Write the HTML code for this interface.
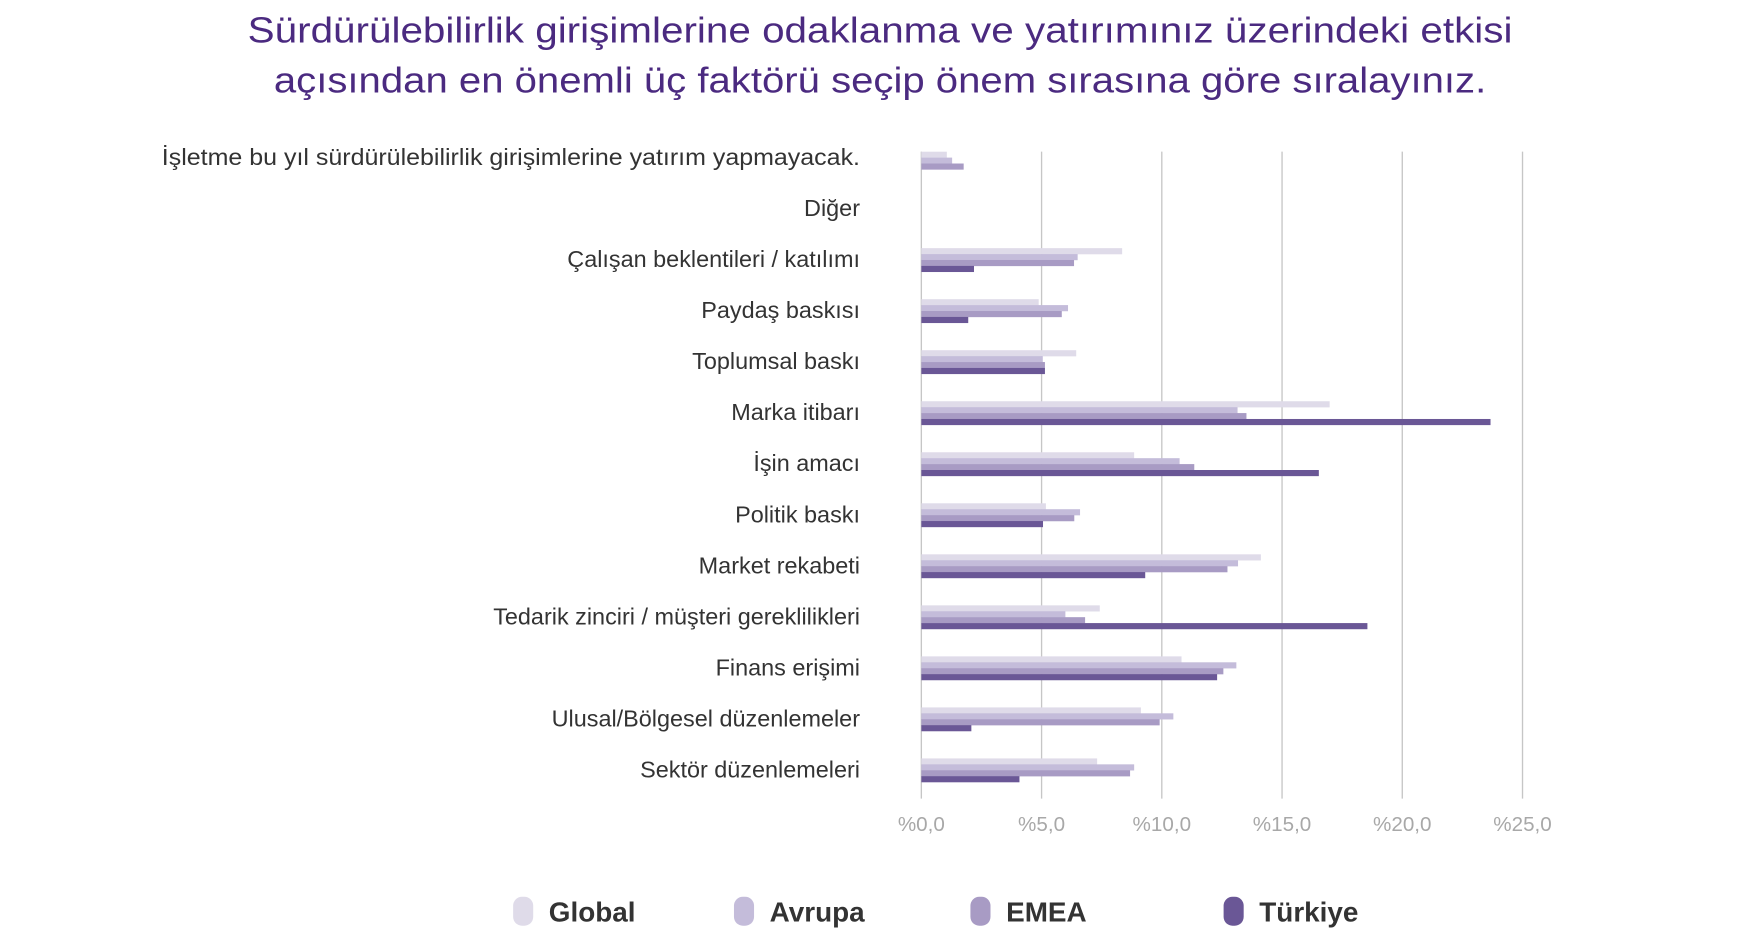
<!DOCTYPE html>
<html><head><meta charset="utf-8"><style>
html,body{margin:0;padding:0;background:#fff;}
svg{display:block;}
text{font-family:"Liberation Sans",sans-serif;}
</style></head><body>
<svg id="chart" width="1749" height="938" viewBox="0 0 1568 841" xmlns="http://www.w3.org/2000/svg">
<text x="789" y="38" text-anchor="middle" font-size="32" fill="#4b2a80" textLength="1134" lengthAdjust="spacingAndGlyphs">Sürdürülebilirlik girişimlerine odaklanma ve yatırımınız üzerindeki etkisi</text>
<text x="789" y="83" text-anchor="middle" font-size="32" fill="#4b2a80" textLength="1087" lengthAdjust="spacingAndGlyphs">açısından en önemli üç faktörü seçip önem sırasına göre sıralayınız.</text>
<g id="grid"></g><g id="bars"></g><g id="labels"></g><g id="ticks"></g><g id="legend"></g>
</svg>
<script>
const categories = ["İşletme bu yıl sürdürülebilirlik girişimlerine yatırım yapmayacak.","Diğer","Çalışan beklentileri / katılımı","Paydaş baskısı","Toplumsal baskı","Marka itibarı","İşin amacı","Politik baskı","Market rekabeti","Tedarik zinciri / müşteri gereklilikleri","Finans erişimi","Ulusal/Bölgesel düzenlemeler","Sektör düzenlemeleri"];
const seriesNames = ["Global","Avrupa","EMEA","Türkiye"];
const globalVals = [1.06,0,8.35,4.88,6.44,16.98,8.85,5.18,14.12,7.42,10.82,9.13,7.31];
const avrupaVals = [1.28,0,6.5,6.1,5.05,13.15,10.74,6.6,13.17,5.99,13.1,10.48,8.85];
const emeaVals = [1.76,0,6.35,5.84,5.14,13.52,11.35,6.36,12.73,6.81,12.56,9.91,8.68];
const turkiyeVals = [0,0,2.19,1.95,5.14,23.67,16.53,5.06,9.31,18.55,12.3,2.08,4.08];
const tickValues = [0,5,10,15,20,25];
const tickLabels = ["%0,0","%5,0","%10,0","%15,0","%20,0","%25,0"];

const NS="http://www.w3.org/2000/svg";
const colors=["#dfdbe9","#c4bcda","#a89bc4","#6a5796"];
const X0=826, PX=21.56;
const xScale=v=>X0+v*PX;
const yCenter=i=>141+i*45.75;
const allSeries=[globalVals,avrupaVals,emeaVals,turkiyeVals];
function mk(tag,attrs,parent){const e=document.createElementNS(NS,tag);for(const k in attrs)e.setAttribute(k,attrs[k]);parent.appendChild(e);return e;}
const grid=document.getElementById('grid'),bars=document.getElementById('bars'),labels=document.getElementById('labels'),ticks=document.getElementById('ticks'),legend=document.getElementById('legend');
tickValues.forEach((t,i)=>{
  const l=mk('line',{x1:xScale(t),x2:xScale(t),y1:136,y2:716,stroke:'#c6c6c6','stroke-width':1.2},grid);
  
  
  const tx=mk('text',{x:xScale(t),y:745,'text-anchor':'middle','font-size':18.5,fill:'#a8a8a8'},ticks);
  tx.textContent=tickLabels[i];
  
  
});
categories.forEach((c,i)=>{
  const cy=yCenter(i);
  const t=mk('text',{x:771,y:cy+7,'text-anchor':'end','font-size':21,fill:'#333'},labels);
  t.textContent=c;
  if(i===0){t.setAttribute('textLength',626);t.setAttribute('lengthAdjust','spacingAndGlyphs');}
  
  
  const top = i===0 ? cy-5 : cy-10;
  allSeries.forEach((s,j)=>{
    const v=s[i]; if(!v) return;
    const r=mk('rect',{x:X0,y:top+j*5.3,width:xScale(v)-X0,height:5.5,fill:colors[j]},bars);
    
    
  });
});
const legX=[460,658,870,1097];
seriesNames.forEach((n,j)=>{
  const r=mk('rect',{x:legX[j],y:804,width:18,height:26,rx:8,fill:colors[j]},legend);
  
  
  const t=mk('text',{x:legX[j]+32,y:826,'font-size':25,'font-weight':'bold',fill:'#333'},legend);
  t.textContent=n;
  
  
});
</script>
</body></html>
